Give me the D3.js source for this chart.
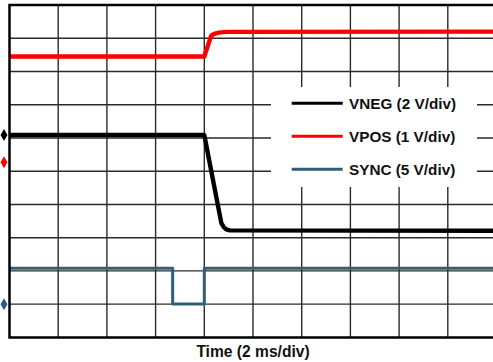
<!DOCTYPE html>
<html><head><meta charset="utf-8">
<script src="https://cdn.jsdelivr.net/npm/d3@7"></script>
<style>body{margin:0;background:#fff}svg{display:block}</style>
</head><body><svg id="c" width="493" height="362"></svg>
<script>
// time axis: 10 divisions x 2 ms/div
const timeDivs = 10, msPerDiv = 2, voltDivs = 10;
const xTitle = "Time (2 ms/div)";
// channel settings
const channels = ["VNEG", "VPOS", "SYNC"];
const channelLabels = ["VNEG (2 V/div)", "VPOS (1 V/div)", "SYNC (5 V/div)"];
const channelColors = ["#000000", "#ff0000", "#2e6078"];
const voltsPerDiv = [2, 1, 5];
const groundDiv = [6.09, 5.27, 1.0]; // ground marker position, divisions from bottom
// traces: time (ms) and volts
const vnegT = [0, 8.0, 8.7, 8.8, 8.9, 9.05, 20];
const vnegV = [0, 0, -5.3, -5.55, -5.68, -5.74, -5.76];
const vposT = [0, 8.0, 8.28, 8.4, 8.6, 8.9, 20];
const vposV = [3.18, 3.18, 3.8, 3.86, 3.9, 3.92, 3.93];
const syncT = [0, 6.7, 6.7, 8.0, 8.0, 20];
const syncV = [5.4, 5.4, 0.03, 0.03, 5.4, 5.4];

const svg = d3.select("#c");
const x = d3.scaleLinear().domain([0, timeDivs * msPerDiv]).range([9.5, 496.5]);
const y = d3.scaleLinear().domain([0, voltDivs]).range([337.4, 5]);

// grid
const g = svg.append("g");
g.selectAll("line.v").data(d3.range(1, timeDivs)).join("line")
  .attr("x1", d => x(d * msPerDiv)).attr("x2", d => x(d * msPerDiv))
  .attr("y1", y(voltDivs)).attr("y2", y(0))
  .attr("stroke", "#2a2a2a").attr("stroke-width", 1.4);
g.selectAll("line.h").data(d3.range(1, voltDivs)).join("line")
  .attr("x1", x(0)).attr("x2", x(timeDivs * msPerDiv))
  .attr("y1", d => y(d)).attr("y2", d => y(d))
  .attr("stroke", "#2a2a2a").attr("stroke-width", 1.4);

// legend background
const legX0 = 271, legX1 = 477, legY0 = 87, legY1 = 187;
svg.append("rect").attr("x", legX0).attr("y", legY0).attr("width", legX1 - legX0).attr("height", legY1 - legY0).attr("fill", "#fff");

// traces
const traces = [[vnegT, vnegV], [vposT, vposV], [syncT, syncV]];
const widths = [4.4, 4.4, 3];
const order = [2, 1, 0];
order.forEach(i => {
  const [ts, vs] = traces[i];
  const pts = ts.map((t, k) => [t, vs[k]]);
  const line = d3.line().x(d => x(d[0])).y(d => y(groundDiv[i] + d[1] / voltsPerDiv[i]));
  svg.append("path").datum(pts).attr("d", line).attr("fill", "none")
    .attr("stroke", channelColors[i]).attr("stroke-width", widths[i])
    .attr("stroke-linejoin", "round");
});

// border (left, top, bottom)
svg.append("path")
  .attr("d", `M${x(timeDivs*msPerDiv)},${y(voltDivs)}H${x(0)}V${y(0)}H${x(timeDivs*msPerDiv)}`)
  .attr("fill", "none").attr("stroke", "#000").attr("stroke-width", 2.5);

// ground markers
channels.forEach((c, i) => {
  svg.append("path").attr("d", d3.symbol(d3.symbolDiamond, 42)())
    .attr("transform", `translate(4,${y(groundDiv[i])})`)
    .attr("fill", i === 2 ? "#2a5b8a" : channelColors[i]);
});

// legend
const leg = svg.append("g");
channelLabels.forEach((lab, i) => {
  const ly = 103.3 + i * 33;
  leg.append("line").attr("x1", 291.7).attr("x2", 342.7).attr("y1", ly).attr("y2", ly)
    .attr("stroke", channelColors[i]).attr("stroke-width", 3);
  leg.append("text").attr("x", 349).attr("y", ly + 5.4).text(lab)
    .attr("font-family", "Liberation Sans, Arial, sans-serif").attr("font-weight", "bold")
    .attr("font-size", 15.3).attr("fill", "#111");
});

// axis title
svg.append("text").attr("x", 253).attr("y", 356.5).attr("text-anchor", "middle").text(xTitle)
  .attr("font-family", "Liberation Sans, Arial, sans-serif").attr("font-weight", "bold")
  .attr("font-size", 15.6).attr("fill", "#111");
</script></body></html>
